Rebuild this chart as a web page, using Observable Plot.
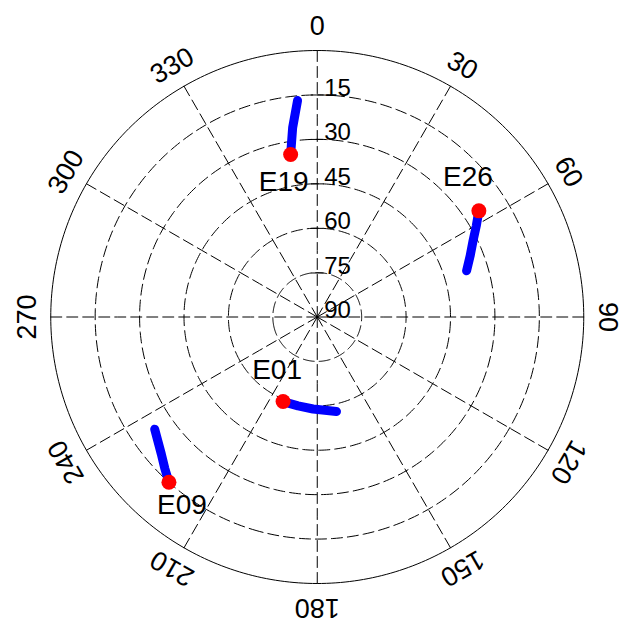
<!DOCTYPE html>
<html>
<head>
<meta charset="utf-8">
<script src="https://cdn.jsdelivr.net/npm/d3@7"></script>
<script src="https://cdn.jsdelivr.net/npm/@observablehq/plot@0.6"></script>
<style>
  html, body { margin: 0; padding: 0; background: #fff; }
  #chart svg { display: block; }
</style>
</head>
<body>
<div id="chart"></div>
<script>
// ---- data ----
const satellites = ["E19", "E26", "E01", "E09"];
// track samples per satellite (azimuth deg, elevation deg); first sample = current position
const trackAz = {
  E19: [350.7, 352.6, 354.8],
  E26: [56.7, 63.9, 72.8],
  E01: [202.0, 192.2, 182.6, 168.5],
  E09: [221.9, 228.7, 235.4]
};
const trackEl = {
  E19: [34.4, 25.5, 16.6],
  E26: [24.7, 31.4, 37.2],
  E01: [59.2, 59.3, 58.9, 57.4],
  E09: [15.0, 19.9, 23.3]
};
const azimuthTicks = [0, 30, 60, 90, 120, 150, 180, 210, 240, 270, 300, 330];
const elevationRings = [15, 30, 45, 60, 75];
const elevationLabels = [15, 30, 45, 60, 75, 90];

// ---- layout ----
const W = 619, H = 625;
const mL = 50, mR = 35.5, mT = 50, mB = 42;
const R = (W - mL - mR) / 2;
const font = "'Liberation Sans', Arial, sans-serif";
const lon = az => 180 - az; // compass azimuth -> projection longitude

const tracks = satellites.flatMap(s =>
  trackAz[s].map((az, i) => ({sat: s, az, el: trackEl[s][i]})));
const current = satellites.map(s => ({sat: s, az: trackAz[s][0], el: trackEl[s][0]}));

const spokes = azimuthTicks.flatMap(az => [{az, el: 0}, {az, el: 90}]);
const ringTicks = elevationRings.flatMap(el => {
  const d = (6 / (R * (90 - el) / 90)) * 180 / Math.PI;
  return [{el, az: -d}, {el, az: d}];
});

const labelNudge = {E19: [-7, 28], E26: [-11, -34], E01: [-6, -32], E09: [13, 23]};

const plot = Plot.plot({
  width: W,
  height: H,
  marginLeft: mL, marginRight: mR, marginTop: mT, marginBottom: mB,
  style: {background: "#fff", fontFamily: font},
  projection: {
    type: "azimuthal-equidistant",
    rotate: [0, -90],
    clip: false,
    domain: d3.geoCircle().center([0, 90]).radius(90)()
  },
  marks: [
    // dashed elevation rings
    Plot.geo(elevationRings, {
      geometry: el => d3.geoCircle().center([0, 90]).radius(90 - el).precision(1)(),
      stroke: "#000", strokeWidth: 1, strokeDasharray: "11,5", fill: "none"
    }),
    // dashed azimuth spokes
    Plot.line(spokes, {
      x: d => lon(d.az), y: "el", z: "az",
      stroke: "#000", strokeWidth: 1, strokeDasharray: "11,5"
    }),
    // outer horizon circle
    Plot.geo([0], {
      geometry: () => d3.geoCircle().center([0, 90]).radius(90).precision(1)(),
      stroke: "#000", strokeWidth: 1, fill: "none"
    }),
    // small ticks on the north spoke
    Plot.line(ringTicks, {
      x: d => lon(d.az), y: "el", z: "el", stroke: "#000", strokeWidth: 1
    }),
    // elevation labels
    Plot.text(elevationLabels, {
      x: () => lon(0), y: d => d, text: d => String(d),
      dx: 7, dy: 1, textAnchor: "start", lineAnchor: "bottom",
      fontSize: 24, fill: "#000"
    }),
    // azimuth labels
    Plot.text(azimuthTicks, {
      x: d => lon(d), y: () => -8, text: d => String(d), rotate: d => d,
      textAnchor: "middle", lineAnchor: "middle",
      fontSize: 27, fill: "#000"
    }),
    // satellite tracks
    Plot.line(tracks, {
      x: d => lon(d.az), y: "el", z: "sat",
      stroke: "#0000ff", strokeWidth: 9, strokeLinecap: "round", strokeLinejoin: "round"
    }),
    // current positions
    Plot.dot(current, {
      x: d => lon(d.az), y: "el", r: 7.5, fill: "#ff0000", stroke: "none"
    }),
    // satellite labels
    ...satellites.map(s => Plot.text(current.filter(d => d.sat === s), {
      x: d => lon(d.az), y: "el", text: "sat",
      dx: labelNudge[s][0], dy: labelNudge[s][1],
      textAnchor: "middle", lineAnchor: "middle",
      fontSize: 28, fill: "#000"
    }))
  ]
});
document.getElementById("chart").appendChild(plot);
</script>
</body>
</html>
